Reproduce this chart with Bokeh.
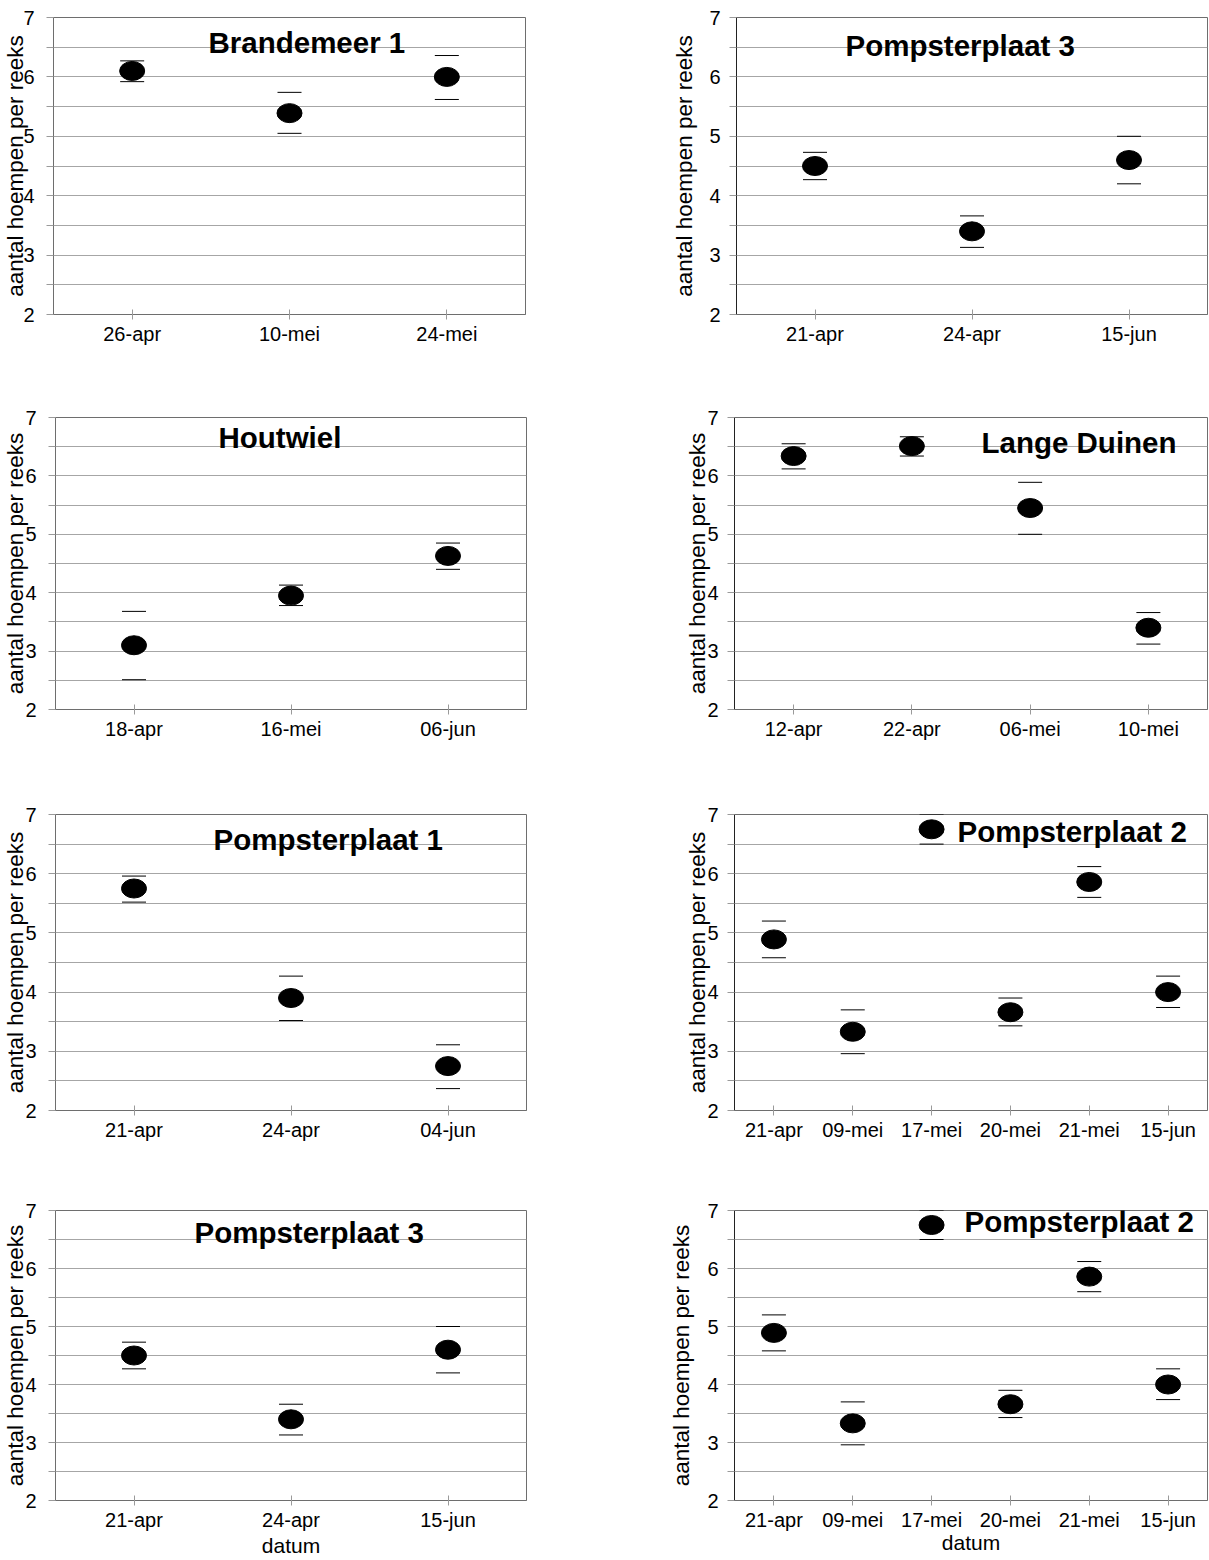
import math
from bokeh.plotting import figure
from bokeh.layouts import column, row
from bokeh.models import FixedTicker, Label, FactorRange, Range1d
from bokeh.embed import file_html
from bokeh.resources import INLINE

# ---------------- data ----------------
brandemeer_dates = ["26-apr", "10-mei", "24-mei"]
brandemeer_mean = [6.10, 5.39, 6.00]
brandemeer_upper = [6.27, 5.74, 6.36]
brandemeer_lower = [5.92, 5.05, 5.62]

pomp3_dates = ["21-apr", "24-apr", "15-jun"]
pomp3_mean = [4.50, 3.40, 4.60]
pomp3_upper = [4.73, 3.66, 5.00]
pomp3_lower = [4.27, 3.13, 4.20]

houtwiel_dates = ["18-apr", "16-mei", "06-jun"]
houtwiel_mean = [3.10, 3.95, 4.63]
houtwiel_upper = [3.68, 4.13, 4.85]
houtwiel_lower = [2.51, 3.78, 4.40]

lange_dates = ["12-apr", "22-apr", "06-mei", "10-mei"]
lange_mean = [6.34, 6.51, 5.45, 3.40]
lange_upper = [6.55, 6.67, 5.89, 3.66]
lange_lower = [6.12, 6.34, 5.00, 3.12]

pomp1_dates = ["21-apr", "24-apr", "04-jun"]
pomp1_mean = [5.75, 3.90, 2.75]
pomp1_upper = [5.96, 4.27, 3.11]
pomp1_lower = [5.52, 3.52, 2.37]

pomp2_dates = ["21-apr", "09-mei", "17-mei", "20-mei", "21-mei", "15-jun"]
pomp2_mean = [4.89, 3.33, 6.75, 3.66, 5.86, 4.00]
pomp2_upper = [5.20, 3.70, 7.00, 3.90, 6.12, 4.27]
pomp2_lower = [4.58, 2.96, 6.50, 3.43, 5.60, 3.74]

y_major = [2, 3, 4, 5, 6, 7]
y_minor = [2.5, 3.5, 4.5, 5.5, 6.5]
y_grid = [2.5, 3, 3.5, 4, 4.5, 5, 5.5, 6, 6.5, 7]

y_title = "aantal hoempen per reeks"
x_title = "datum"

FONT = "Liberation Sans"


def make_panel(title, dates, mean, upper, lower, w, h, bl, br, bt, bb,
               tx, ty, tick_standoff, ylab_standoff, yaxis_color, datum_standoff=None):
    p = figure(x_range=FactorRange(*dates), y_range=Range1d(2, 7),
               width=w, height=h,
               min_border_left=bl, min_border_right=br,
               min_border_top=bt, min_border_bottom=bb,
               output_backend="svg", toolbar_location=None,
               background_fill_color="white", border_fill_color="white",
               outline_line_color="#6e6e6e", outline_line_width=1)

    # y axis
    p.yaxis.ticker = FixedTicker(ticks=y_major, minor_ticks=y_minor)
    p.yaxis.major_tick_out = 7
    p.yaxis.major_tick_in = 0
    p.yaxis.minor_tick_out = 7
    p.yaxis.minor_tick_in = 0
    p.yaxis.major_tick_line_color = "#9a9a9a"
    p.yaxis.minor_tick_line_color = "#9a9a9a"
    p.yaxis.axis_line_color = yaxis_color
    p.yaxis.major_label_standoff = tick_standoff
    p.yaxis.major_label_text_font = FONT
    p.yaxis.major_label_text_font_size = "20px"
    p.yaxis.major_label_text_color = "black"
    p.yaxis.axis_label = y_title
    p.yaxis.axis_label_text_font = FONT
    p.yaxis.axis_label_text_font_size = "22.5px"
    p.yaxis.axis_label_text_font_style = "normal"
    p.yaxis.axis_label_text_color = "black"
    p.yaxis.axis_label_standoff = ylab_standoff

    # x axis
    p.xaxis.major_tick_in = 5
    p.xaxis.major_tick_out = 5
    p.xaxis.major_tick_line_color = "#9a9a9a"
    p.xaxis.axis_line_color = "#6e6e6e"
    p.xaxis.major_label_standoff = 3
    p.xaxis.major_label_text_font = FONT
    p.xaxis.major_label_text_font_size = "20px"
    p.xaxis.major_label_text_color = "black"
    if datum_standoff is not None:
        p.xaxis.axis_label = x_title
        p.xaxis.axis_label_text_font = FONT
        p.xaxis.axis_label_text_font_size = "21px"
        p.xaxis.axis_label_text_font_style = "normal"
        p.xaxis.axis_label_text_color = "black"
        p.xaxis.axis_label_standoff = datum_standoff

    # grid
    p.xgrid.visible = False
    p.ygrid.ticker = FixedTicker(ticks=y_grid)
    p.ygrid.grid_line_color = "#a6a6a6"
    p.ygrid.grid_line_width = 1

    # error caps and means
    p.scatter(x=dates, y=upper, marker="dash", size=24,
              line_color="black", line_width=1)
    p.scatter(x=dates, y=lower, marker="dash", size=24,
              line_color="black", line_width=1)
    p.ellipse(x=dates, y=mean, width=25, height=19,
              width_units="screen", height_units="screen",
              fill_color="black", line_color="black")

    # title inside the plot
    p.add_layout(Label(x=tx, y=ty, x_units="screen", y_units="screen",
                       text=title, text_font=FONT, text_font_size="29.5px",
                       text_font_style="bold", text_color="black",
                       text_align="left", text_baseline="alphabetic"))
    return p


LW, RW = 560, 648

p1 = make_panel("Brandemeer 1", brandemeer_dates, brandemeer_mean, brandemeer_upper,
                brandemeer_lower, LW, 395, 52, 35, 17, 79, 155, 272, 12, -8, "#6e6e6e")
p2 = make_panel("Pompsterplaat 3", pomp3_dates, pomp3_mean, pomp3_upper, pomp3_lower,
                RW, 395, 176, 1, 16, 81, 109, 269, 9, 9, "#222222")
p3 = make_panel("Houtwiel", houtwiel_dates, houtwiel_mean, houtwiel_upper, houtwiel_lower,
                LW, 400, 54, 34, 16, 86, 163, 272, 12, -6, "#6e6e6e")
p4 = make_panel("Lange Duinen", lange_dates, lange_mean, lange_upper, lange_lower,
                RW, 400, 174, 1, 22, 81, 247, 267, 9, -6, "#222222")
p5 = make_panel("Pompsterplaat 1", pomp1_dates, pomp1_mean, pomp1_upper, pomp1_lower,
                LW, 395, 54, 34, 17, 80, 158, 271, 12, -6, "#6e6e6e")
p6 = make_panel("Pompsterplaat 2", pomp2_dates, pomp2_mean, pomp2_upper, pomp2_lower,
                RW, 395, 174, 1, 19, 77, 223, 279, 9, -6, "#222222")
p7 = make_panel("Pompsterplaat 3", pomp3_dates, pomp3_mean, pomp3_upper, pomp3_lower,
                LW, 369, 54, 34, 15, 56, 139, 268, 12, -6, "#6e6e6e", datum_standoff=0)
p8 = make_panel("Pompsterplaat 2", pomp2_dates, pomp2_mean, pomp2_upper, pomp2_lower,
                RW, 369, 174, 1, 20, 51, 230, 279, 9, 10, "#222222", datum_standoff=-3)

layout = column(row(p1, p2), row(p3, p4), row(p5, p6), row(p7, p8))

open("out.html", "w").write(file_html(layout, INLINE))
